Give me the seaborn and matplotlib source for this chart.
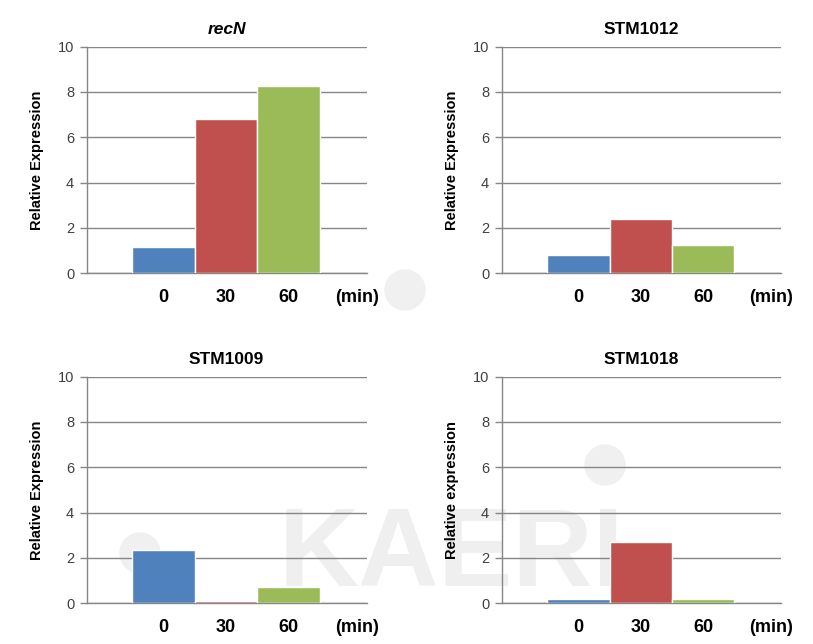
import seaborn as sns
import matplotlib.pyplot as plt
from matplotlib.patches import Ellipse

times = ["0", "30", "60"]
tick_labels = ["0", "30", "60", "(min)"]
titles = ["recN", "STM1012", "STM1009", "STM1018"]
ylabels = ["Relative Expression", "Relative Expression", "Relative Expression", "Relative expression"]

recN = [1.17, 6.81, 8.28]
stm1012 = [0.81, 2.40, 1.23]
stm1009 = [2.35, 0.09, 0.73]
stm1018 = [0.20, 2.69, 0.20]

colors = ["#4F81BD", "#C0504D", "#9BBB59"]

sns.set_theme(style="white")
plt.rcParams['font.family'] = ['Liberation Sans', 'DejaVu Sans']

fig = plt.figure(figsize=(8.13, 6.44), dpi=100)

# faint watermark behind the charts
fig.text(0.555, 0.135, "KAERI", fontsize=80, fontweight='bold', color='#efefef',
         ha='center', va='center', zorder=-2)
for cx, cy in [(405, 290), (605, 465), (140, 553)]:
    fig.patches.append(Ellipse((cx / 813, 1 - cy / 644), 40 / 813, 40 / 644,
                               transform=fig.transFigure, color='#f0f0f0', zorder=-2))

positions = [
    [0.1066, 0.5756, 0.3444, 0.352],
    [0.6171, 0.5756, 0.3436, 0.352],
    [0.1066, 0.0632, 0.3444, 0.352],
    [0.6171, 0.0632, 0.3436, 0.352],
]
data = [recN, stm1012, stm1009, stm1018]

for pos, vals, title, ylab in zip(positions, data, titles, ylabels):
    ax = fig.add_axes(pos)
    ax.patch.set_alpha(0)
    sns.barplot(x=times, y=vals, hue=times, palette=colors, legend=False,
                width=1, saturation=1, ax=ax, zorder=3)
    ax.set_xlim(-1.23, 3.25)
    ax.set_ylim(0, 10)
    ax.set_yticks(range(0, 11, 2))
    ax.yaxis.grid(True, color='#868686', lw=1)
    ax.set_axisbelow(True)
    ax.set_xticks([0, 1, 2, 3.09])
    ax.set_xticklabels(tick_labels, fontsize=13, fontweight='bold', color='black')
    ax.tick_params(axis='x', length=0, pad=11)
    ax.tick_params(axis='y', length=5, width=1, color='#868686', labelsize=10.5,
                   labelcolor='#404040', pad=4, left=True)
    for s in ['top', 'right']:
        ax.spines[s].set_visible(False)
    for s in ['left', 'bottom']:
        ax.spines[s].set_color('#868686')
        ax.spines[s].set_linewidth(1)
    ax.set_ylabel(ylab, fontsize=10.5, fontweight='bold', color='black', labelpad=10)
    ax.set_xlabel("")
    style = 'italic' if title == "recN" else 'normal'
    ax.set_title(title, fontsize=12.5, fontweight='bold', fontstyle=style,
                 color='black', pad=9)

plt.savefig('out.png', dpi=100)
